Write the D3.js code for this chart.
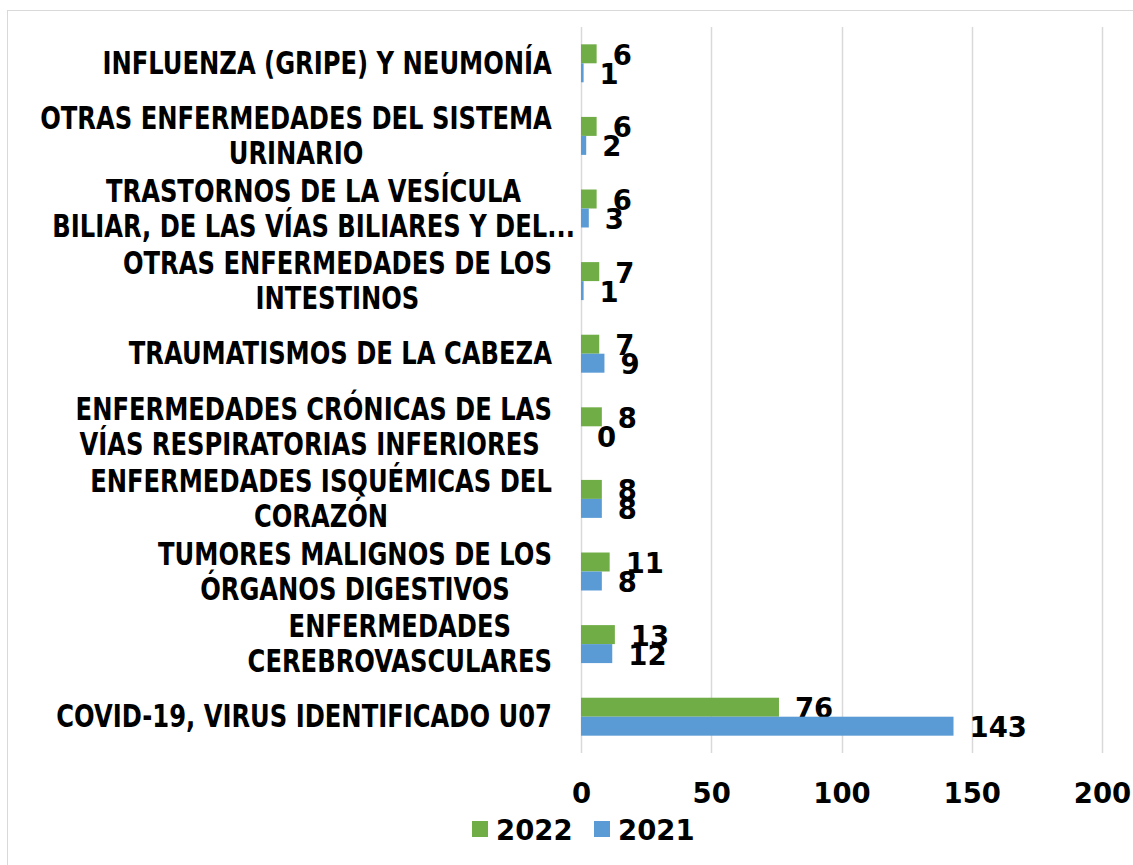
<!DOCTYPE html>
<html>
<head>
<meta charset="utf-8">
<script src="https://cdn.jsdelivr.net/npm/d3@7"></script>
<style>
	body { margin: 0; background: #ffffff; }
	svg { display: block; }
	.cat { font-family: 'DejaVu Sans', sans-serif; font-weight: bold; font-size: 32px; fill: #000; }
	.num { font-family: 'DejaVu Sans', sans-serif; font-weight: bold; font-size: 27.5px; fill: #000; }
</style>
</head>
<body>
<svg width="1133" height="865"></svg>
<script>
// categories, top to bottom (\n = where the original label wraps)
var categories = [
	'INFLUENZA (GRIPE) Y NEUMONÍA',
	'OTRAS ENFERMEDADES DEL SISTEMA\nURINARIO',
	'TRASTORNOS DE LA VESÍCULA\nBILIAR, DE LAS VÍAS BILIARES Y DEL...',
	'OTRAS ENFERMEDADES DE LOS\nINTESTINOS',
	'TRAUMATISMOS DE LA CABEZA',
	'ENFERMEDADES CRÓNICAS DE LAS\nVÍAS RESPIRATORIAS INFERIORES ',
	'ENFERMEDADES ISQUÉMICAS DEL\nCORAZÓN',
	'TUMORES MALIGNOS DE LOS\nÓRGANOS DIGESTIVOS',
	'ENFERMEDADES\nCEREBROVASCULARES',
	'COVID-19, VIRUS IDENTIFICADO U07'
];
var values2022 = [6, 6, 6, 7, 7, 8, 8, 11, 13, 76];
var values2021 = [1, 2, 3, 1, 9, 0, 8, 8, 12, 143];
var seriesNames = ['2022', '2021'];
var tickValues = [0, 50, 100, 150, 200];

var colors = { '2022': '#70ad47', '2021': '#5b9bd5' };

var svg = d3.select('svg');

// chart frame
svg.append('rect')
	.attr('x', 7.5).attr('y', 10.5)
	.attr('width', 1200).attr('height', 900)
	.attr('fill', 'none').attr('stroke', '#d9d9d9');

var x = d3.scaleLinear().domain([0, 200]).range([581, 1102]);

var y = d3.scaleBand()
	.domain(categories)
	.range([27, 753])
	.paddingInner(0.477)
	.paddingOuter(0.2385);

var ySub = d3.scaleBand().domain(seriesNames).range([0, y.bandwidth()]);

//gridlines
svg.append('g').selectAll('line')
	.data(tickValues)
	.enter()
	.append('line')
	.attr('x1', function(d){ return Math.round(x(d)) + 0.5; })
	.attr('x2', function(d){ return Math.round(x(d)) + 0.5; })
	.attr('y1', 27).attr('y2', 753)
	.attr('stroke', '#d9d9d9')
	.attr('stroke-width', 1.5);

var rows = categories.map(function(c, i){
	return { cat: c, '2022': values2022[i], '2021': values2021[i] };
});

//bars + value labels
var groups = svg.append('g').selectAll('g')
	.data(rows)
	.enter()
	.append('g')
	.attr('transform', function(d){ return 'translate(0,' + y(d.cat) + ')'; });

groups.each(function(d){
	var g = d3.select(this);
	seriesNames.forEach(function(s){
		g.append('rect')
			.attr('x', x(0))
			.attr('y', ySub(s))
			.attr('width', x(d[s]) - x(0))
			.attr('height', ySub.bandwidth())
			.attr('fill', colors[s]);
		g.append('text')
			.attr('class', 'num')
			.attr('x', x(d[s]) + 16)
			.attr('y', ySub(s) + ySub.bandwidth() / 2 + 1)
			.attr('dominant-baseline', 'central')
			.text(d[s]);
	});
});

//category labels, lines centred on each other, block right aligned
var labelRight = 552;
var lineH = 35;
var catG = svg.append('g');

// the original uses a condensed face: squeeze so the covid line is ~496px wide
var probe = catG.append('text').attr('class', 'cat').text(categories[categories.length - 1]);
var squeeze = 496 / probe.node().getComputedTextLength();
probe.remove();

catG.selectAll('g')
	.data(categories)
	.enter()
	.append('g')
	.each(function(c){
		var g = d3.select(this);
		var lines = c.split('\n');
		var cy = y(c) + y.bandwidth() / 2;
		var texts = lines.map(function(l, k){
			return g.append('text')
				.attr('class', 'cat')
				.attr('xml:space', 'preserve')
				.style('white-space', 'pre')
				.attr('text-anchor', 'middle')
				.attr('dominant-baseline', 'central')
				.attr('y', 0)
				.attr('data-cy', cy + (k - (lines.length - 1) / 2) * lineH)
				.text(l);
		});
		var maxW = squeeze * d3.max(texts, function(t){ return t.node().getComputedTextLength(); });
		var right = labelRight;
		if(c.indexOf('...') > -1) right = labelRight + 23; // truncated label spills past the gap
		texts.forEach(function(t){
			t.attr('transform', 'translate(' + (right - maxW / 2) + ',' + t.attr('data-cy') + ') scale(' + squeeze + ',1)');
		});
	});

//x axis
var axis = svg.append('g')
	.attr('transform', 'translate(0,753)')
	.call(d3.axisBottom(x).tickValues(tickValues).tickSize(0).tickPadding(30).tickFormat(d3.format('d')));
axis.select('.domain').remove();
axis.attr('font-family', null).attr('font-size', null);
axis.selectAll('text')
	.attr('class', 'num')
	.attr('fill', '#000');

//legend
var legend = svg.append('g').attr('transform', 'translate(472,829)');
var items = legend.selectAll('g')
	.data(seriesNames)
	.enter()
	.append('g')
	.attr('transform', function(d, i){ return 'translate(' + (i * 122) + ',0)'; });
items.append('rect')
	.attr('x', 0).attr('y', -8)
	.attr('width', 16).attr('height', 16)
	.attr('fill', function(d){ return colors[d]; });
items.append('text')
	.attr('class', 'num')
	.attr('x', 24)
	.attr('y', 1)
	.attr('dominant-baseline', 'central')
	.text(function(d){ return d; });
</script>
</body>
</html>
